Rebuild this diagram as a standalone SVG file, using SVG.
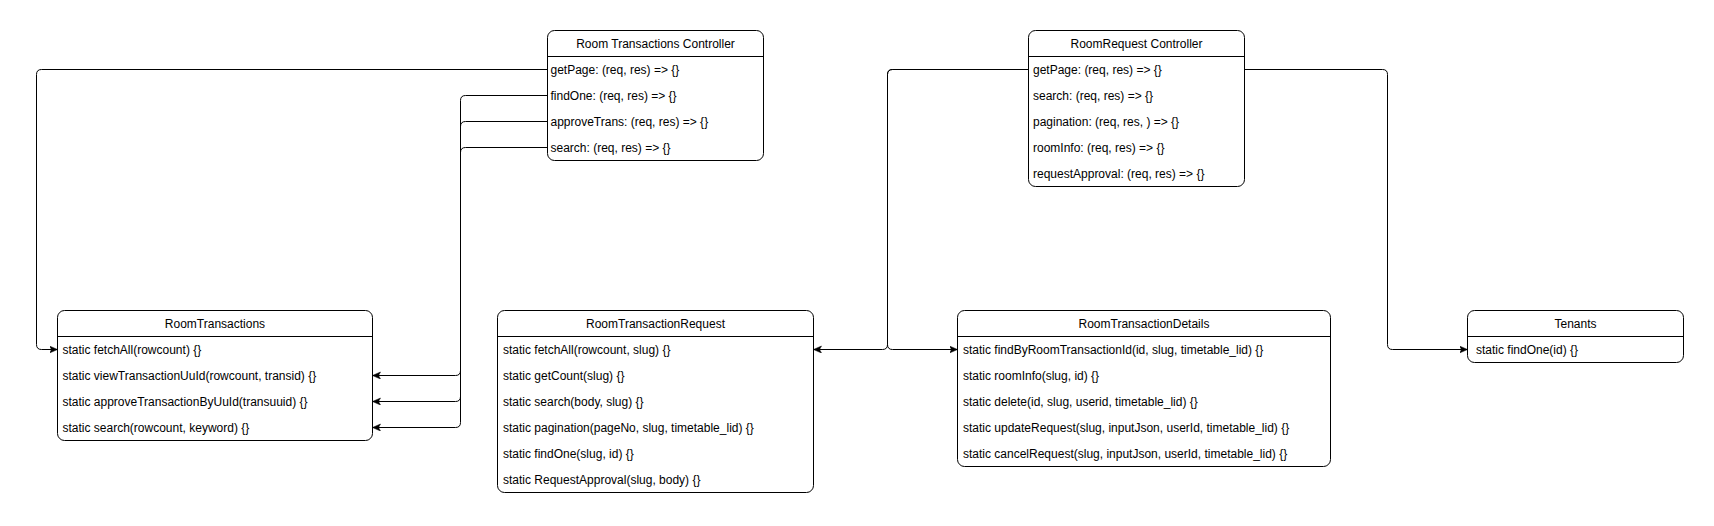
<svg xmlns="http://www.w3.org/2000/svg" width="1714" height="526" viewBox="0 0 1714 526">
<defs>
<style>
.box{fill:#fff;stroke:#000;stroke-width:1}
.sep{stroke:#000;stroke-width:1}
.t{font-family:"Liberation Sans",Arial,Helvetica,sans-serif;font-size:12px;fill:#000}
.h{text-anchor:middle}
.e{fill:none;stroke:#000;stroke-width:1}
.a{marker-end:url(#arr)}
</style>
<marker id="arr" markerUnits="userSpaceOnUse" markerWidth="10" markerHeight="8" refX="8" refY="3.5" orient="auto">
<path d="M0,0 L8,3.5 L0,7 L2,3.5 Z" fill="#000" stroke="#000" stroke-width="0.5"/>
</marker>
</defs>
<rect width="1714" height="526" fill="#fff"/>

<g id="room-transactions-controller">
<rect class="box" x="547.5" y="30.5" width="216" height="130" rx="7"/>
<line class="sep" x1="547.5" y1="56.5" x2="763.5" y2="56.5"/>
<text class="t h" x="655.5" y="47.5">Room Transactions Controller</text>
<text class="t" x="550.5" y="73.5">getPage: (req, res) =&gt; {}</text>
<text class="t" x="550.5" y="99.5">findOne: (req, res) =&gt; {}</text>
<text class="t" x="550.5" y="125.5">approveTrans: (req, res) =&gt; {}</text>
<text class="t" x="550.5" y="151.5">search: (req, res) =&gt; {}</text>
</g>

<g id="roomrequest-controller">
<rect class="box" x="1028.5" y="30.5" width="216" height="156" rx="7"/>
<line class="sep" x1="1028.5" y1="56.5" x2="1244.5" y2="56.5"/>
<text class="t h" x="1136.5" y="47.5">RoomRequest Controller</text>
<text class="t" x="1033" y="73.5">getPage: (req, res) =&gt; {}</text>
<text class="t" x="1033" y="99.5">search: (req, res) =&gt; {}</text>
<text class="t" x="1033" y="125.5">pagination: (req, res, ) =&gt; {}</text>
<text class="t" x="1033" y="151.5">roomInfo: (req, res) =&gt; {}</text>
<text class="t" x="1033" y="177.5">requestApproval: (req, res) =&gt; {}</text>
</g>

<g id="room-transactions">
<rect class="box" x="57.5" y="310.5" width="315" height="130" rx="7"/>
<line class="sep" x1="57.5" y1="336.5" x2="372.5" y2="336.5"/>
<text class="t h" x="215" y="327.5">RoomTransactions</text>
<text class="t" x="62.5" y="353.5">static fetchAll(rowcount) {}</text>
<text class="t" x="62.5" y="379.5">static viewTransactionUuId(rowcount, transid) {}</text>
<text class="t" x="62.5" y="405.5">static approveTransactionByUuId(transuuid) {}</text>
<text class="t" x="62.5" y="431.5">static search(rowcount, keyword) {}</text>
</g>

<g id="room-transaction-request">
<rect class="box" x="497.5" y="310.5" width="316" height="182" rx="7"/>
<line class="sep" x1="497.5" y1="336.5" x2="813.5" y2="336.5"/>
<text class="t h" x="655.5" y="327.5">RoomTransactionRequest</text>
<text class="t" x="503" y="353.5">static fetchAll(rowcount, slug) {}</text>
<text class="t" x="503" y="379.5">static getCount(slug) {}</text>
<text class="t" x="503" y="405.5">static search(body, slug) {}</text>
<text class="t" x="503" y="431.5">static pagination(pageNo, slug, timetable_lid) {}</text>
<text class="t" x="503" y="457.5">static findOne(slug, id) {}</text>
<text class="t" x="503" y="483.5">static RequestApproval(slug, body) {}</text>
</g>

<g id="room-transaction-details">
<rect class="box" x="957.5" y="310.5" width="373" height="156" rx="7"/>
<line class="sep" x1="957.5" y1="336.5" x2="1330.5" y2="336.5"/>
<text class="t h" x="1144" y="327.5">RoomTransactionDetails</text>
<text class="t" x="963" y="353.5">static findByRoomTransactionId(id, slug, timetable_lid) {}</text>
<text class="t" x="963" y="379.5">static roomInfo(slug, id) {}</text>
<text class="t" x="963" y="405.5">static delete(id, slug, userid, timetable_lid) {}</text>
<text class="t" x="963" y="431.5">static updateRequest(slug, inputJson, userId, timetable_lid) {}</text>
<text class="t" x="963" y="457.5">static cancelRequest(slug, inputJson, userId, timetable_lid) {}</text>
</g>

<g id="tenants">
<rect class="box" x="1467.5" y="310.5" width="216" height="52" rx="7"/>
<line class="sep" x1="1467.5" y1="336.5" x2="1683.5" y2="336.5"/>
<text class="t h" x="1575.5" y="327.5">Tenants</text>
<text class="t" x="1476" y="353.5">static findOne(id) {}</text>
</g>

<g id="connectors">
<path class="e a" d="M547.5,69.5 H41.5 Q36.5,69.5 36.5,74.5 V344.5 Q36.5,349.5 41.5,349.5 H57.5"/>
<path class="e a" d="M547.5,95.5 H465.5 Q460.5,95.5 460.5,100.5 V370.5 Q460.5,375.5 455.5,375.5 H372.5"/>
<path class="e a" d="M547.5,121.5 H465.5 Q460.5,121.5 460.5,126.5 V396.5 Q460.5,401.5 455.5,401.5 H372.5"/>
<path class="e a" d="M547.5,147.5 H465.5 Q460.5,147.5 460.5,152.5 V422.5 Q460.5,427.5 455.5,427.5 H372.5"/>
<path class="e a" d="M1028.5,69.5 H892.5 Q887.5,69.5 887.5,74.5 V344.5 Q887.5,349.5 882.5,349.5 H813.5"/>
<path class="e a" d="M1028.5,69.5 H892.5 Q887.5,69.5 887.5,74.5 V344.5 Q887.5,349.5 892.5,349.5 H957.5"/>
<path class="e a" d="M1244.5,69.5 H1382.5 Q1387.5,69.5 1387.5,74.5 V344.5 Q1387.5,349.5 1392.5,349.5 H1467.5"/>
</g>
</svg>
